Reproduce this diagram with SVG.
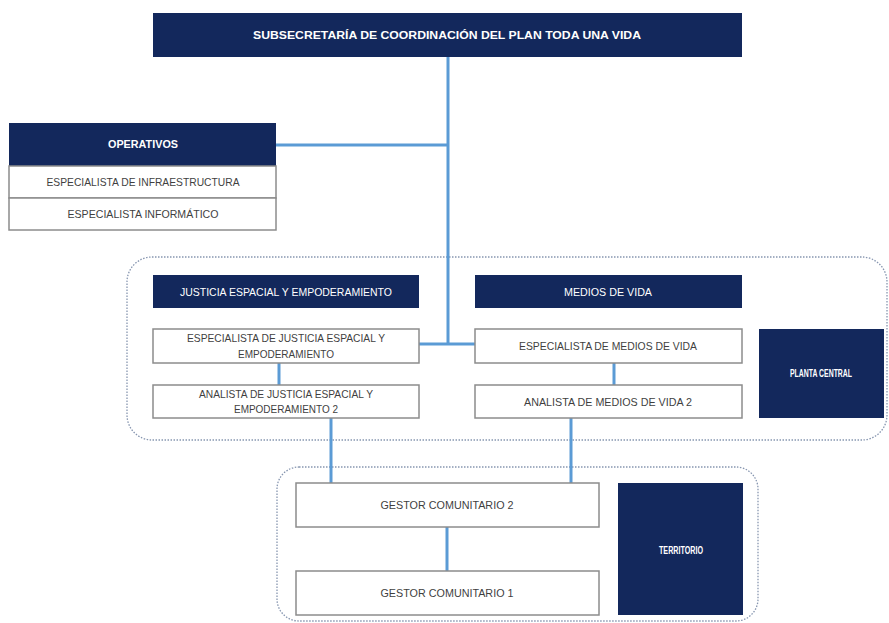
<svg xmlns="http://www.w3.org/2000/svg" width="889" height="623" viewBox="0 0 889 623">
<style>
.bg{fill:#ffffff}
.dark{fill:#13285c}
.box{fill:#ffffff;stroke:#8c8c8c;stroke-width:1.5}
.zone{fill:none;stroke:#8796b0;stroke-width:1.3;stroke-dasharray:1.5 1.5}
.lt{font-family:"Liberation Sans","DejaVu Sans",sans-serif;font-size:11px;fill:#ffffff;text-anchor:middle}
.lb{font-family:"Liberation Sans","DejaVu Sans",sans-serif;font-size:11px;font-weight:bold;fill:#ffffff;text-anchor:middle}
.gt{font-family:"Liberation Sans","DejaVu Sans",sans-serif;font-size:11px;fill:#3f3f3f;text-anchor:middle}
.conn{stroke:#5b9bd5;stroke-width:3;fill:none}
</style>
<rect class="bg" x="0" y="0" width="889" height="623"/>

<g id="zones">
  <rect id="zone-planta" class="zone" x="127" y="257" width="760" height="183" rx="25"/>
  <rect id="zone-territorio" class="zone" x="277" y="467" width="481" height="154" rx="22"/>
</g>

<g id="connectors">
  <line class="conn" x1="448" y1="57" x2="448" y2="344"/>
  <line class="conn" x1="276" y1="145" x2="448" y2="145"/>
  <line class="conn" x1="419" y1="344" x2="475" y2="344"/>
  <line class="conn" x1="279" y1="363" x2="279" y2="385"/>
  <line class="conn" x1="614" y1="363" x2="614" y2="385"/>
  <line class="conn" x1="331" y1="418" x2="331" y2="483"/>
  <line class="conn" x1="571" y1="418" x2="571" y2="483"/>
  <line class="conn" x1="447" y1="527" x2="447" y2="571"/>
</g>

<g id="subsecretaria">
  <rect class="dark" x="153" y="13" width="589" height="44"/>
  <text class="lb" x="447" y="39" textLength="388" lengthAdjust="spacingAndGlyphs">SUBSECRETARÍA DE COORDINACIÓN DEL PLAN TODA UNA VIDA</text>
</g>

<g id="operativos">
  <rect class="dark" x="9" y="123" width="267" height="43"/>
  <text class="lb" x="143" y="148" textLength="70" lengthAdjust="spacingAndGlyphs">OPERATIVOS</text>
</g>
<g id="esp-infraestructura">
  <rect class="box" x="9" y="166" width="267" height="32"/>
  <text class="gt" x="143" y="186" textLength="193" lengthAdjust="spacingAndGlyphs">ESPECIALISTA DE INFRAESTRUCTURA</text>
</g>
<g id="esp-informatico">
  <rect class="box" x="9" y="198" width="267" height="32"/>
  <text class="gt" x="143" y="218" textLength="151" lengthAdjust="spacingAndGlyphs">ESPECIALISTA INFORMÁTICO</text>
</g>

<g id="justicia">
  <rect class="dark" x="153" y="275" width="266" height="33"/>
  <text class="lt" x="286" y="296" textLength="212" lengthAdjust="spacingAndGlyphs">JUSTICIA ESPACIAL Y EMPODERAMIENTO</text>
</g>
<g id="medios">
  <rect class="dark" x="475" y="275" width="267" height="33"/>
  <text class="lt" x="608" y="296" textLength="88" lengthAdjust="spacingAndGlyphs">MEDIOS DE VIDA</text>
</g>

<g id="esp-justicia">
  <rect class="box" x="153" y="329" width="266" height="34"/>
  <text class="gt" x="286" y="342" textLength="198" lengthAdjust="spacingAndGlyphs">ESPECIALISTA DE JUSTICIA ESPACIAL Y</text>
  <text class="gt" x="286" y="358" textLength="96" lengthAdjust="spacingAndGlyphs">EMPODERAMIENTO</text>
</g>
<g id="ana-justicia">
  <rect class="box" x="153" y="385" width="266" height="33"/>
  <text class="gt" x="286" y="398" textLength="174" lengthAdjust="spacingAndGlyphs">ANALISTA DE JUSTICIA ESPACIAL Y</text>
  <text class="gt" x="286" y="413" textLength="104" lengthAdjust="spacingAndGlyphs">EMPODERAMIENTO 2</text>
</g>

<g id="esp-medios">
  <rect class="box" x="475" y="329" width="267" height="34"/>
  <text class="gt" x="608" y="350" textLength="178" lengthAdjust="spacingAndGlyphs">ESPECIALISTA DE MEDIOS DE VIDA</text>
</g>
<g id="ana-medios">
  <rect class="box" x="475" y="385" width="267" height="33"/>
  <text class="gt" x="608" y="406" textLength="168" lengthAdjust="spacingAndGlyphs">ANALISTA DE MEDIOS DE VIDA 2</text>
</g>

<g id="planta-central">
  <rect class="dark" x="759" y="329" width="125" height="89"/>
  <text class="lb" x="821" y="377" font-size="8" textLength="62" lengthAdjust="spacingAndGlyphs">PLANTA CENTRAL</text>
</g>

<g id="gestor-2">
  <rect class="box" x="296" y="483" width="303" height="44"/>
  <text class="gt" x="447" y="509" textLength="133" lengthAdjust="spacingAndGlyphs">GESTOR COMUNITARIO 2</text>
</g>
<g id="gestor-1">
  <rect class="box" x="296" y="571" width="303" height="44"/>
  <text class="gt" x="447" y="597" textLength="133" lengthAdjust="spacingAndGlyphs">GESTOR COMUNITARIO 1</text>
</g>

<g id="territorio">
  <rect class="dark" x="618" y="483" width="125" height="132"/>
  <text class="lb" x="681" y="554" font-size="8" textLength="44" lengthAdjust="spacingAndGlyphs">TERRITORIO</text>
</g>
</svg>
